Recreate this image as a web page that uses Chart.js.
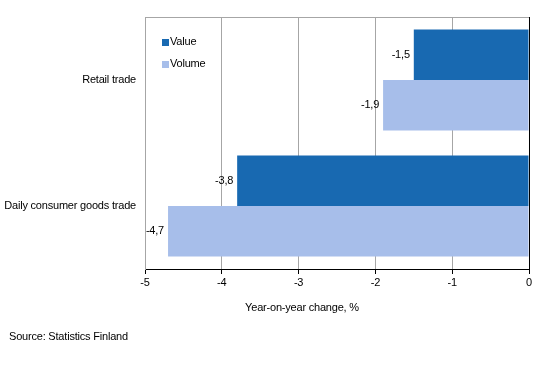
<!DOCTYPE html>
<html>
<head>
<meta charset="utf-8">
<script src="https://cdn.jsdelivr.net/npm/chart.js@4/dist/chart.umd.min.js"></script>
<style>
  html, body { margin: 0; padding: 0; background: #fff; }
  #wrap { width: 541px; height: 365px; position: relative; }
</style>
</head>
<body>
<div id="wrap"><canvas id="chart" width="541" height="365"></canvas></div>
<script>
// Chart data
const categories = ['Retail trade', 'Daily consumer goods trade'];
const valueChange = [-1.5, -3.8];
const volumeChange = [-1.9, -4.7];
const seriesNames = ['Value', 'Volume'];
const seriesColors = ['#1869b1', '#a7beea'];
const xTicks = [-5, -4, -3, -2, -1, 0];

const FONT = "'Liberation Sans', Arial, sans-serif";
Chart.defaults.font.family = FONT;
Chart.defaults.font.size = 11;
Chart.defaults.color = '#000';

// labels, legend, top border, axis title and source text
const extras = {
    id: 'extras',
    beforeDraw(chart) {
        // the original uses slightly tighter text
        chart.ctx.letterSpacing = '-0.2px';
    },
    afterDatasetsDraw(chart) {
        const ctx = chart.ctx;
        const area = chart.chartArea;
        ctx.save();
        ctx.font = '11px ' + FONT;
        ctx.fillStyle = '#000';
        ctx.textBaseline = 'middle';
        ctx.textAlign = 'right';
        chart.data.datasets.forEach((ds, i) => {
            chart.getDatasetMeta(i).data.forEach((bar, j) => {
                const txt = ds.data[j].toFixed(1).replace('.', ',');
                ctx.fillText(txt, bar.x - 4, bar.y);
            });
        });

        // top border
        ctx.strokeStyle = '#a6a6a6';
        ctx.lineWidth = 1;
        ctx.beginPath();
        ctx.moveTo(area.left, area.top + 0.5);
        ctx.lineTo(area.right, area.top + 0.5);
        ctx.stroke();

        // legend
        ctx.textAlign = 'left';
        seriesNames.forEach((name, i) => {
            const y = area.top + 25 + i * 22;
            ctx.fillStyle = seriesColors[i];
            ctx.fillRect(area.left + 17, y - 3, 7, 7);
            ctx.fillStyle = '#000';
            ctx.fillText(name, area.left + 25, y);
        });

        // axis title and source
        ctx.textAlign = 'center';
        ctx.fillText('Year-on-year change, %', 302, 308);
        ctx.textAlign = 'left';
        ctx.fillText('Source: Statistics Finland', 9, 337);
        ctx.restore();
    }
};

new Chart(document.getElementById('chart'), {
    type: 'bar',
    data: {
        labels: categories,
        datasets: [
            { label: seriesNames[0], data: valueChange, backgroundColor: seriesColors[0] },
            { label: seriesNames[1], data: volumeChange, backgroundColor: seriesColors[1] }
        ]
    },
    options: {
        indexAxis: 'y',
        responsive: false,
        animation: false,
        layout: { padding: { top: 17, right: 12, left: 0, bottom: 0 } },
        datasets: { bar: { barPercentage: 1, categoryPercentage: 0.8 } },
        plugins: { legend: { display: false }, tooltip: { enabled: false } },
        scales: {
            x: {
                min: xTicks[0],
                max: xTicks[xTicks.length - 1],
                afterBuildTicks: (s) => { s.ticks = xTicks.map(v => ({ value: v })); },
                afterFit: (s) => { s.height = 96; },
                grid: {
                    color: (c) => c.tick && c.tick.value === 0 ? '#000' : '#a6a6a6',
                    tickColor: '#000',
                    tickLength: 5
                },
                border: { color: '#000' },
                ticks: { color: '#000', padding: 2, maxRotation: 0, callback: (v) => String(v) }
            },
            y: {
                afterFit: (s) => { s.width = 145; },
                grid: { display: false, drawTicks: false },
                border: { color: '#a6a6a6' },
                ticks: { color: '#000', padding: 9 }
            }
        }
    },
    plugins: [extras]
});
</script>
</body>
</html>
